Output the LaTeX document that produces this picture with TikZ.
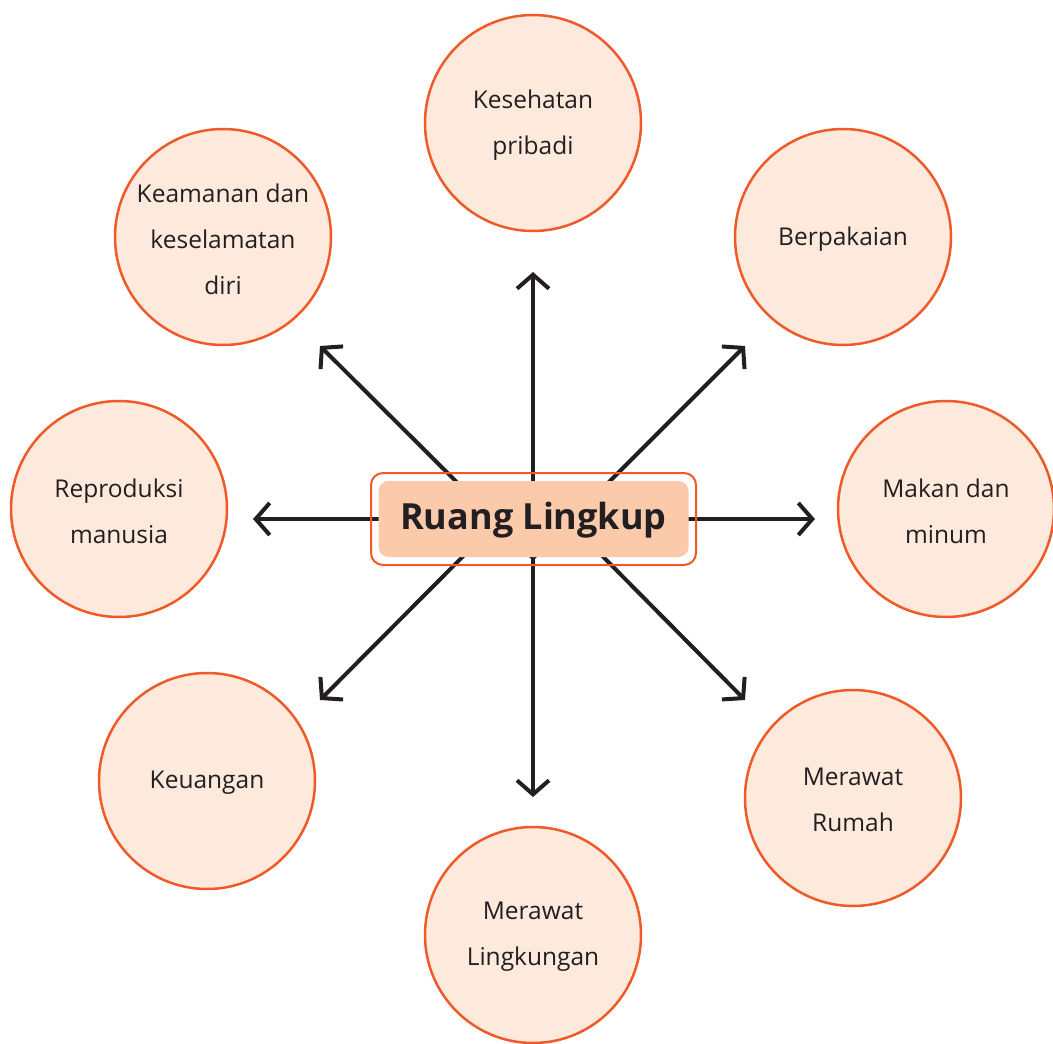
\documentclass[tikz,border=0pt]{standalone}
\usepackage{fontspec}
\setmainfont{Open Sans}
\usetikzlibrary{arrows.meta}
\definecolor{ink}{HTML}{231F20}
\definecolor{orng}{HTML}{F05A28}
\definecolor{cfill}{HTML}{FDEADD}
\definecolor{bfill}{HTML}{FBCAAB}
\tikzset{
  topic/.style={circle, draw=orng, line width=2.5pt, fill=cfill, minimum size=216pt, inner sep=0pt},
  ttext/.style={align=center, text=ink, inner sep=0pt, font=\fontsize{24.5}{46}\selectfont},
  conn/.style={draw=ink, line width=4pt, -{Straight Barb[length=14pt,width=32pt,line join=miter]}},
}
\begin{document}
\begin{tikzpicture}[x=1pt,y=-1pt]
\useasboundingbox (0,0) rectangle (1053,1044);
\coordinate (c) at (533,519);
\coordinate (cu) at (533,558);
\coordinate (cd) at (533,486);
\coordinate (tU) at (533,272);
\coordinate (tD) at (533,797);
\coordinate (tL) at (253,519);
\coordinate (tR) at (815,519);
\coordinate (tNE) at (745,346);
\coordinate (tNW) at (320,346);
\coordinate (tSW) at (320,700);
\coordinate (tSE) at (745,700);
\foreach \t in {tU,tD,tL,tR} \draw[conn] (c) -- (\t);
\foreach \t in {tNE,tNW} \draw[conn] (cu) -- (\t);
\foreach \t in {tSE,tSW} \draw[conn] (cd) -- (\t);
\node[topic] (kes) at (533,123) {};
\node[topic] (ber) at (843,237) {};
\node[topic] (mak) at (946,509) {};
\node[topic] (rum) at (853,798) {};
\node[topic] (lin) at (533,935) {};
\node[topic] (keu) at (207,781) {};
\node[topic] (rep) at (119,509) {};
\node[topic] (kea) at (223,237) {};
\node[ttext] (kesT) at ([yshift=-2pt]kes.center) {Kesehatan\\pribadi};
\node[ttext] (berT) at ([yshift=-2pt]ber.center) {Berpakaian};
\node[ttext] (makT) at ([yshift=-2pt]mak.center) {Makan dan\\minum};
\node[ttext] (rumT) at ([yshift=-2pt]rum.center) {Merawat\\Rumah};
\node[ttext] (linT) at ([yshift=-2pt]lin.center) {Merawat\\Lingkungan};
\node[ttext] (keuT) at ([yshift=-2pt]keu.center) {Keuangan};
\node[ttext] (repT) at ([yshift=-2pt]rep.center) {Reproduksi\\manusia};
\node[ttext] (keaT) at ([yshift=-2pt]kea.center) {Keamanan dan\\keselamatan\\diri};
\node[draw=orng, line width=2pt, rounded corners=12pt, minimum width=325pt, minimum height=92pt] (outer) at (533.5,519) {};
\node[fill=bfill, rounded corners=10pt, minimum width=310pt, minimum height=76pt] (box) at (outer.center) {};
\node[text=ink, inner sep=0pt, font=\fontsize{36}{40}\selectfont\bfseries] (title) at ([yshift=-1pt]box.center) {Ruang Lingkup};
\end{tikzpicture}
\end{document}
